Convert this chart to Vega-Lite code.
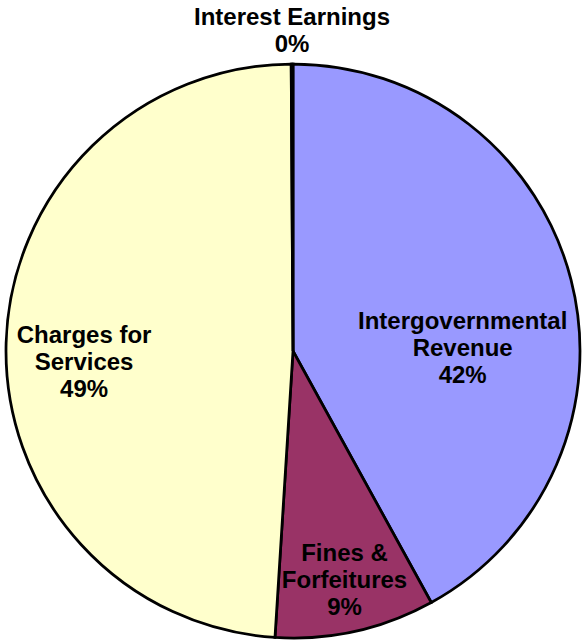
{
  "$schema": "https://vega.github.io/schema/vega-lite/v6.json",
  "autosize": "none",
  "width": 574,
  "height": 574,
  "padding": {"left": 6, "top": 64, "right": 4, "bottom": 4},
  "background": "white",
  "config": {"view": {"stroke": null}},
  "data": {
    "values": [
      {"category": "Intergovernmental Revenue", "label": "Intergovernmental\nRevenue\n42%", "share": 42.0, "order": 1},
      {"category": "Fines & Forfeitures", "label": "Fines &\nForfeitures\n9%", "share": 9.0, "order": 2},
      {"category": "Charges for Services", "label": "Charges for\nServices\n49%", "share": 48.9, "order": 3},
      {"category": "Interest Earnings", "label": "Interest Earnings\n0%", "share": 0.1, "order": 4}
    ]
  },
  "encoding": {
    "theta": {"field": "share", "type": "quantitative", "stack": true},
    "order": {"field": "order", "type": "quantitative"}
  },
  "layer": [
    {
      "mark": {"type": "arc", "outerRadius": 287, "stroke": "black", "strokeWidth": 2.75},
      "encoding": {
        "color": {
          "field": "category",
          "type": "nominal",
          "scale": {
            "domain": ["Intergovernmental Revenue", "Fines & Forfeitures", "Charges for Services", "Interest Earnings"],
            "range": ["#9999FF", "#993366", "#FFFFCC", "#CCFFFF"]
          },
          "legend": null
        }
      }
    },
    {
      "mark": {"type": "text", "radius": 170, "dx": 5, "dy": 13, "font": "Liberation Sans", "fontWeight": "bold", "fontSize": 24, "lineHeight": 27, "lineBreak": "\n", "align": "center", "baseline": "middle", "color": "black"},
      "encoding": {
        "detail": {"field": "category", "type": "nominal"},
        "text": {"condition": {"test": "datum.category === 'Intergovernmental Revenue'", "field": "label"}, "value": ""}
      }
    },
    {
      "mark": {"type": "text", "radius": 236, "dy": -27, "font": "Liberation Sans", "fontWeight": "bold", "fontSize": 24, "lineHeight": 27, "lineBreak": "\n", "align": "center", "baseline": "middle", "color": "black"},
      "encoding": {
        "detail": {"field": "category", "type": "nominal"},
        "text": {"condition": {"test": "datum.category === 'Fines & Forfeitures'", "field": "label"}, "value": ""}
      }
    },
    {
      "mark": {"type": "text", "radius": 209, "dy": -9, "font": "Liberation Sans", "fontWeight": "bold", "fontSize": 24, "lineHeight": 27, "lineBreak": "\n", "align": "center", "baseline": "middle", "color": "black"},
      "encoding": {
        "detail": {"field": "category", "type": "nominal"},
        "text": {"condition": {"test": "datum.category === 'Charges for Services'", "field": "label"}, "value": ""}
      }
    },
    {
      "mark": {"type": "text", "radius": 320, "dy": -13, "font": "Liberation Sans", "fontWeight": "bold", "fontSize": 24, "lineHeight": 27, "lineBreak": "\n", "align": "center", "baseline": "middle", "color": "black"},
      "encoding": {
        "detail": {"field": "category", "type": "nominal"},
        "text": {"condition": {"test": "datum.category === 'Interest Earnings'", "field": "label"}, "value": ""}
      }
    }
  ]
}
